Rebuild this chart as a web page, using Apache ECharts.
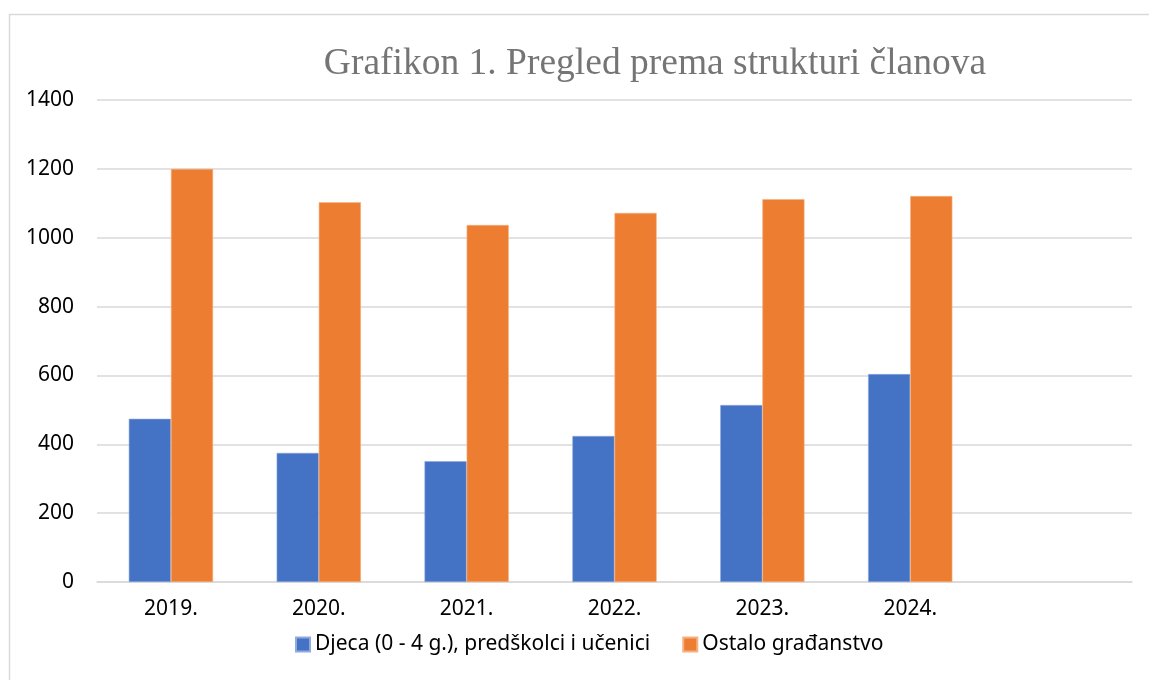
<!DOCTYPE html>
<html>
<head>
<meta charset="utf-8">
<script src="https://cdn.jsdelivr.net/npm/echarts@6/dist/echarts.min.js"></script>
<style>
  html, body { margin: 0; padding: 0; background: #fff; }
  #chart { width: 1149px; height: 680px; }
</style>
</head>
<body>
<div id="chart"></div>
<script>
// Data
const years = ["2019.", "2020.", "2021.", "2022.", "2023.", "2024.", ""];
const djeca = [474, 375, 351, 424, 514, 604, null];
const ostalo = [1200, 1103, 1037, 1072, 1112, 1121, null];
const seriesNames = ["Djeca (0 - 4 g.), predškolci i učenici", "Ostalo građanstvo"];

const chart = echarts.init(document.getElementById("chart"));

const labelFont = "Noto Sans";

const option = {
  animation: false,
  backgroundColor: "#fff",
  // light frame round the chart area, as in the original
  graphic: [{
    type: "rect",
    shape: { x: 9.5, y: 14.5, width: 1200, height: 700 },
    style: { fill: "none", stroke: "#d9d9d9", lineWidth: 1.5 },
    silent: true
  }],
  title: {
    text: "Grafikon 1. Pregled prema strukturi članova",
    left: 650,
    top: 40,
    textAlign: "center",
    textStyle: {
      fontFamily: "Liberation Serif",
      fontWeight: "normal",
      fontSize: 37.5,
      color: "#757575"
    }
  },
  legend: {
    bottom: 20,
    left: 290,
    itemWidth: 14,
    itemHeight: 14,
    itemGap: 32,
    icon: "rect",
    textStyle: { fontFamily: labelFont, fontSize: 21, color: "#000" },
    data: seriesNames
  },
  grid: { left: 97, right: 17, top: 100, bottom: 98 },
  xAxis: {
    type: "category",
    data: years,
    axisLine: { lineStyle: { color: "#d9d9d9", width: 1.5 } },
    axisTick: { show: false },
    axisLabel: { fontFamily: labelFont, fontSize: 21, color: "#000", margin: 17 }
  },
  yAxis: {
    type: "value",
    min: 0,
    max: 1400,
    interval: 200,
    axisLine: { show: false },
    axisTick: { show: false },
    splitLine: { lineStyle: { color: "#d9d9d9", width: 1.5 } },
    axisLabel: {
      fontFamily: labelFont, fontSize: 21, color: "#000", margin: 23,
      formatter: (v) => String(v)
    }
  },
  series: [
    {
      name: seriesNames[0],
      type: "bar",
      data: djeca,
      barGap: "0%",
      barCategoryGap: "43%",
      itemStyle: { color: "#4472C4", borderColor: "#8faadc", borderWidth: 0.6 }
    },
    {
      name: seriesNames[1],
      type: "bar",
      data: ostalo,
      barGap: "0%",
      barCategoryGap: "43%",
      itemStyle: { color: "#ED7D31", borderColor: "#f4b183", borderWidth: 0.6 }
    }
  ]
};

chart.setOption(option);
</script>
</body>
</html>
